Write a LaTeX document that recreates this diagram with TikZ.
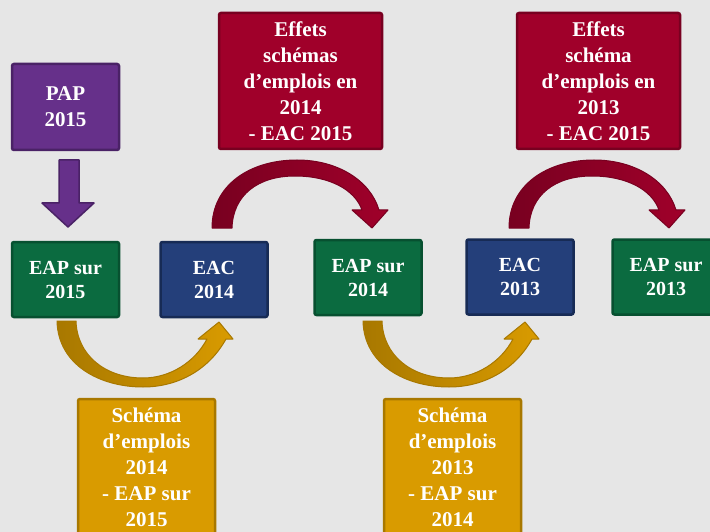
\documentclass[tikz,border=0pt]{standalone}
\usepackage{fontspec}
\setmainfont{Liberation Serif}
\definecolor{bgc}{HTML}{E6E6E6}
\definecolor{purf}{HTML}{66308A}
\definecolor{purd}{HTML}{4A2266}
\definecolor{grnf}{HTML}{0B6B40}
\definecolor{grnd}{HTML}{075030}
\definecolor{bluf}{HTML}{243F7A}
\definecolor{blud}{HTML}{172B55}
\definecolor{redf}{HTML}{A0002A}
\definecolor{redd}{HTML}{780020}
\definecolor{gldf}{HTML}{D99B00}
\definecolor{gldd}{HTML}{A87800}
\tikzset{
  box/.style={draw, line width=2.5pt, rounded corners=2pt, text=white,
    font=\bfseries\fontsize{21}{26}\selectfont, align=center, inner sep=0pt},
  smallbox/.style={box, minimum width=107pt, minimum height=75pt,
    font=\bfseries\fontsize{20}{24}\selectfont},
  bigbox/.style={box, minimum width=163pt, minimum height=136pt},
  goldbox/.style={box, fill=gldf, draw=gldd, minimum width=137pt, minimum height=136pt},
  pics/redcurve/.style={code={
    \shade[left color=redd, right color=redf, draw=redd, line width=1pt, line join=round]
      (0,0) .. controls (0,-43) and (38,-68) .. (85,-68)
      .. controls (125,-68) and (158,-48) .. (167,-18)
      -- (176,-18) -- (160,0) -- (140,-18) -- (150,-18)
      .. controls (143,-38) and (118,-52) .. (83,-52)
      .. controls (46,-52) and (21,-33) .. (20,0) -- cycle;
  }},
  pics/goldcurve/.style={code={
    \shade[left color=gldd, right color=gldf, draw=gldd, line width=1pt, line join=round]
      (0,0) .. controls (1,44) and (43,66) .. (86,66)
      .. controls (123,66) and (153,47) .. (169,18)
      -- (176,18) -- (162,1) -- (141,18) -- (150,18)
      .. controls (138,41) and (113,57) .. (86,57)
      .. controls (48,57) and (20,34) .. (19,0) -- cycle;
  }}
}
\begin{document}
\begin{tikzpicture}[x=1pt,y=-1pt]
\fill[bgc] (0,0) rectangle (710,532);
\useasboundingbox (0,0) rectangle (710,532);

% boxes
\node[smallbox, fill=purf, draw=purd, minimum height=86pt, font=\bfseries\fontsize{21}{26}\selectfont] (pap) at (65.5,107) {PAP\\2015};
\node[smallbox, fill=grnf, draw=grnd] (eap15) at (65.5,279.5) {EAP sur\\2015};
\node[smallbox, fill=bluf, draw=blud] (eac14) at (214,279.5) {EAC\\2014};
\node[smallbox, fill=grnf, draw=grnd] (eap14) at (368,277.5) {EAP sur\\2014};
\node[smallbox, fill=bluf, draw=blud] (eac13) at (520,277) {EAC\\2013};
\node[smallbox, fill=grnf, draw=grnd] (eap13) at (666,277) {EAP sur\\2013};

\node[bigbox, fill=redf, draw=redd] (eff14) at (300.5,81) {Effets\\schémas\\d’emplois en\\2014\\- EAC 2015};
\node[bigbox, fill=redf, draw=redd] (eff13) at (598.5,81) {Effets\\schéma\\d’emplois en\\2013\\- EAC 2015};

\node[goldbox] (sch14) at (146.5,467) {Schéma\\d’emplois\\2014\\- EAP sur\\2015};
\node[goldbox] (sch13) at (452.5,467) {Schéma\\d’emplois\\2013\\- EAP sur\\2014};

% purple down arrow
\fill[purf, draw=purd, line width=1.5pt, line join=round]
  (59,160) -- (79,160) -- (79,203) -- (94,203) -- (68,227) -- (42,203) -- (59,203) -- cycle;

% curved arrows
\pic at (212,228) {redcurve};
\pic at (509,228) {redcurve};
\pic at (57,321) {goldcurve};
\pic at (363,321) {goldcurve};
\end{tikzpicture}
\end{document}
